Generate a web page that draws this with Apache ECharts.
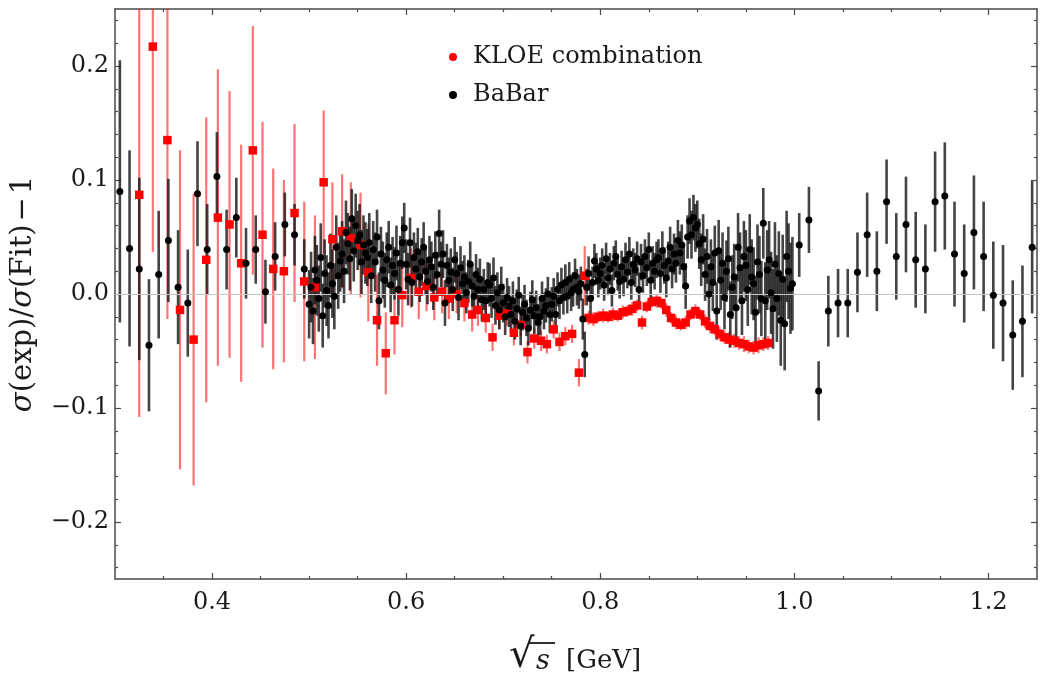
<!DOCTYPE html>
<html>
<head>
<meta charset="utf-8">
<script src="https://cdn.jsdelivr.net/npm/echarts@6/dist/echarts.min.js"></script>
<style>
  html, body { margin: 0; padding: 0; background: #fff; }
  #chart { width: 1040px; height: 686px; }
</style>
</head>
<body>
<div id="chart"></div>
<script>
// Relative deviation of measured e+e- -> pi+pi- cross sections from the fit.

// Tick positions
const xMajorTicks = [0.4, 0.6, 0.8, 1.0, 1.2];
const xMinorTicks = [0.35, 0.45, 0.5, 0.55, 0.65, 0.7, 0.75, 0.85, 0.9, 0.95, 1.05, 1.1, 1.15];
const yMajorTicks = [-0.2, -0.1, 0.0, 0.1, 0.2];
const yMinorTicks = [-0.24, -0.22, -0.18, -0.16, -0.14, -0.12, -0.08, -0.06, -0.04, -0.02,
                     0.02, 0.04, 0.06, 0.08, 0.12, 0.14, 0.16, 0.18, 0.22, 0.24];

// KLOE combination: sqrt(s) [GeV], deviation, uncertainty
const kloeX = [0.325,0.339,0.354,0.367,0.381,0.394,0.406,0.418,0.430,0.442,
  0.452,0.463,0.474,0.485,0.495,0.506,0.515,0.524,0.534,0.543,
  0.553,0.561,0.570,0.579,0.588,0.596,0.605,0.613,0.621,0.629,
  0.637,0.644,0.652,0.660,0.668,0.674,0.682,0.689,0.696,0.704,
  0.711,0.718,0.725,0.732,0.739,0.745,0.752,0.758,0.764,0.771,
  0.778,0.784,
  0.788,0.793,0.798,0.803,0.808,0.813,0.818,0.823,0.828,0.833,
  0.838,0.843,0.848,0.853,0.858,0.863,0.868,0.873,0.878,0.883,
  0.888,0.893,0.898,0.903,0.908,0.913,0.918,0.923,0.928,0.933,
  0.938,0.943,0.948,0.953,0.958,0.963,0.968,0.973];
const kloeY = [0.087,0.217,0.135,-0.014,-0.040,0.030,0.067,0.061,0.027,0.126,
  0.052,0.022,0.020,0.071,0.011,0.006,0.098,0.048,0.055,0.049,
  0.043,0.019,-0.023,-0.052,-0.023,-0.001,0.014,0.002,0.007,-0.003,
  0.002,-0.004,0.000,-0.008,-0.018,-0.014,-0.021,-0.038,-0.019,-0.017,
  -0.034,-0.027,-0.051,-0.039,-0.041,-0.044,-0.031,-0.042,-0.037,-0.035,
  -0.069,0.016,
  -0.021,-0.022,-0.020,-0.019,-0.020,-0.018,-0.019,-0.016,-0.015,-0.013,
  -0.010,-0.025,-0.011,-0.007,-0.006,-0.008,-0.014,-0.021,-0.025,-0.027,
  -0.025,-0.018,-0.015,-0.018,-0.024,-0.028,-0.031,-0.035,-0.038,-0.040,
  -0.041,-0.043,-0.044,-0.046,-0.047,-0.045,-0.044,-0.043];
const kloeErr = [0.195,0.180,0.157,0.140,0.128,0.125,0.130,0.117,0.104,0.109,
  0.099,0.088,0.080,0.078,0.070,0.063,0.063,0.050,0.050,0.049,
  0.046,0.043,0.040,0.036,0.030,0.028,0.026,0.024,0.022,0.020,
  0.019,0.018,0.017,0.016,0.015,0.014,0.013,0.012,0.012,0.011,
  0.011,0.010,0.010,0.009,0.009,0.008,0.008,0.008,0.008,0.008,
  0.012,0.026,
  0.006,0.006,0.005,0.006,0.005,0.006,0.005,0.006,0.005,0.006,
  0.005,0.006,0.005,0.005,0.006,0.005,0.006,0.005,0.006,0.005,
  0.006,0.005,0.006,0.005,0.006,0.006,0.005,0.006,0.006,0.007,
  0.006,0.006,0.007,0.006,0.006,0.007,0.006,0.006];

// BaBar: sqrt(s) [GeV], deviation, uncertainty
const babarX = [0.305,0.315,0.325,0.335,0.345,0.355,0.365,0.375,0.385,0.395,
  0.405,0.415,0.425,0.435,0.445,0.455,0.465,0.475,0.485,0.495,
  0.500,0.502,0.504,0.506,0.508,0.510,0.512,0.514,0.516,0.518,
  0.520,0.522,0.524,0.526,0.528,0.530,0.532,0.534,0.536,0.538,
  0.540,0.542,0.544,0.546,0.548,0.550,0.552,0.554,0.556,0.558,
  0.560,0.562,0.564,0.566,0.568,0.570,0.572,0.574,0.576,0.578,
  0.580,0.582,0.584,0.586,0.588,0.590,0.592,0.594,0.596,0.598,
  0.600,0.602,0.604,0.606,0.608,0.610,0.612,0.614,0.616,0.618,
  0.620,0.622,0.624,0.626,0.628,0.630,0.632,0.634,0.636,0.638,
  0.640,0.642,0.644,0.646,0.648,0.650,0.652,0.654,0.656,0.658,
  0.660,0.662,0.664,0.666,0.668,0.670,0.672,0.674,0.676,0.678,
  0.680,0.682,0.684,0.686,0.688,0.690,0.692,0.694,0.696,0.698,
  0.700,0.702,0.704,0.706,0.708,0.710,0.712,0.714,0.716,0.718,
  0.720,0.722,0.724,0.726,0.728,0.730,0.732,0.734,0.736,0.738,
  0.740,0.742,0.744,0.746,0.748,0.750,0.752,0.754,0.756,0.758,
  0.760,0.762,0.764,0.766,0.768,0.770,0.772,0.774,0.776,0.778,
  0.780,0.782,0.784,0.786,0.788,0.790,0.792,0.794,0.796,0.798,
  0.800,0.802,0.804,0.806,0.808,0.810,0.812,0.814,0.816,0.818,
  0.820,0.822,0.824,0.826,0.828,0.830,0.832,0.834,0.836,0.838,
  0.840,0.842,0.844,0.846,0.848,0.850,0.852,0.854,0.856,0.858,
  0.860,0.862,0.864,0.866,0.868,0.870,0.872,0.874,0.876,0.878,
  0.880,0.882,0.884,0.886,0.888,0.890,0.892,0.894,0.896,0.898,
  0.900,0.902,0.904,0.906,0.908,0.910,0.912,0.914,0.916,0.918,
  0.920,0.922,0.924,0.926,0.928,0.930,0.932,0.934,0.936,0.938,
  0.940,0.942,0.944,0.946,0.948,0.950,0.952,0.954,0.956,0.958,
  0.960,0.962,0.964,0.966,0.968,0.970,0.972,0.974,0.976,0.978,
  0.980,0.982,0.984,0.986,0.988,0.990,0.992,0.994,0.996,0.998,
  1.005,1.015,1.025,1.035,1.045,1.055,1.065,1.075,1.085,1.095,
  1.105,1.115,1.125,1.135,1.145,1.155,1.165,1.175,1.185,1.195,
  1.205,1.215,1.225,1.235,1.245];
const babarY = [0.090,0.040,0.022,-0.045,0.017,0.047,0.006,-0.008,0.088,0.039,
  0.103,0.039,0.067,0.027,0.039,0.002,0.033,0.061,0.052,0.022,
  -0.009,0.006,-0.015,0.021,0.012,-0.004,0.032,-0.019,0.018,0.003,
  -0.010,0.025,0.009,-0.002,0.041,0.016,0.029,0.035,0.020,0.054,
  0.044,0.031,0.066,0.038,0.060,0.047,0.052,0.028,0.043,0.036,
  0.032,0.045,0.016,0.039,0.028,0.050,-0.006,0.035,0.021,0.012,
  0.030,0.041,0.008,0.025,0.018,0.036,0.004,0.027,0.045,0.058,
  0.026,0.013,0.045,0.010,0.032,0.022,0.037,0.015,0.028,0.041,
  0.020,0.011,0.030,0.024,0.006,0.034,0.017,0.053,0.026,0.035,
  -0.008,0.025,0.012,0.019,0.004,0.030,0.018,-0.003,0.023,0.009,
  0.015,0.001,0.011,0.026,0.007,-0.002,0.017,0.004,0.013,-0.005,
  0.004,-0.006,0.010,0.008,-0.004,0.014,-0.010,0.001,-0.014,0.006,
  -0.008,-0.020,-0.003,-0.011,-0.018,-0.006,-0.024,-0.013,-0.001,-0.028,
  -0.016,-0.009,-0.021,-0.030,-0.014,-0.005,-0.019,-0.012,-0.025,-0.020,
  -0.004,-0.015,-0.010,0.000,-0.018,-0.009,-0.002,-0.018,0.004,-0.006,
  0.008,-0.003,0.010,-0.002,0.013,0.001,0.004,0.016,0.006,0.002,
  0.009,-0.022,-0.053,0.006,0.018,-0.004,0.010,0.029,0.022,0.012,
  0.018,0.025,0.008,0.031,0.014,0.022,0.003,0.027,0.033,0.017,
  0.011,0.024,0.013,0.030,0.019,0.035,0.010,0.026,0.021,0.031,
  0.004,0.028,0.016,0.033,0.023,0.039,0.012,0.027,0.020,0.030,
  0.032,0.018,0.038,0.025,0.014,0.029,0.041,0.022,0.035,0.027,
  0.047,0.036,0.043,0.024,0.007,0.050,0.064,0.052,0.067,0.058,
  0.061,0.044,0.030,0.048,0.017,0.033,0.000,0.024,0.010,0.036,
  -0.015,0.038,0.012,0.027,-0.003,0.020,0.031,-0.018,0.006,0.015,
  -0.012,0.041,0.023,-0.006,0.033,0.025,0.004,0.039,0.015,0.009,
  -0.016,0.028,0.017,-0.004,0.062,-0.006,0.021,0.030,0.001,-0.013,
  0.026,-0.004,0.018,-0.023,0.013,-0.026,0.033,0.020,0.005,0.009,
  0.043,0.065,-0.085,-0.015,-0.008,-0.008,0.019,0.052,0.020,0.081,
  0.033,0.061,0.030,0.022,0.081,0.086,0.035,0.018,0.054,0.033,
  -0.001,-0.008,-0.036,-0.024,0.041];
const babarErr = [0.115,0.086,0.080,0.058,0.056,0.054,0.050,0.047,0.046,0.040,
  0.039,0.035,0.035,0.031,0.030,0.028,0.030,0.028,0.027,0.026,
  0.030,0.031,0.029,0.030,0.031,0.029,0.030,0.028,0.030,0.031,
  0.029,0.028,0.030,0.029,0.028,0.029,0.027,0.029,0.028,0.028,
  0.027,0.028,0.026,0.027,0.028,0.026,0.027,0.028,0.026,0.027,
  0.025,0.026,0.024,0.025,0.026,0.024,0.025,0.024,0.025,0.024,
  0.024,0.023,0.024,0.025,0.023,0.024,0.023,0.024,0.023,0.022,
  0.022,0.023,0.022,0.021,0.022,0.023,0.021,0.022,0.021,0.022,
  0.021,0.020,0.021,0.022,0.020,0.021,0.020,0.021,0.020,0.021,
  0.020,0.019,0.020,0.021,0.019,0.020,0.019,0.020,0.019,0.020,
  0.019,0.018,0.019,0.020,0.018,0.019,0.018,0.019,0.018,0.019,
  0.018,0.017,0.018,0.019,0.017,0.018,0.017,0.018,0.017,0.018,
  0.017,0.016,0.017,0.018,0.016,0.017,0.016,0.017,0.016,0.017,
  0.016,0.017,0.016,0.015,0.016,0.017,0.016,0.015,0.016,0.016,
  0.015,0.016,0.015,0.015,0.016,0.015,0.016,0.015,0.015,0.016,
  0.015,0.015,0.016,0.015,0.015,0.016,0.015,0.015,0.016,0.015,
  0.015,0.018,0.020,0.016,0.015,0.015,0.014,0.015,0.014,0.015,
  0.014,0.015,0.014,0.014,0.015,0.014,0.014,0.015,0.014,0.014,
  0.015,0.014,0.015,0.015,0.014,0.015,0.015,0.014,0.015,0.015,
  0.015,0.016,0.015,0.015,0.016,0.015,0.016,0.015,0.016,0.016,
  0.016,0.017,0.017,0.016,0.017,0.017,0.018,0.017,0.018,0.017,
  0.018,0.019,0.018,0.019,0.020,0.019,0.020,0.021,0.020,0.021,
  0.021,0.022,0.023,0.022,0.023,0.024,0.023,0.024,0.025,0.024,
  0.025,0.027,0.026,0.027,0.028,0.027,0.028,0.029,0.028,0.029,
  0.029,0.030,0.031,0.030,0.031,0.031,0.032,0.031,0.033,0.032,
  0.032,0.033,0.034,0.033,0.031,0.034,0.035,0.034,0.036,0.035,
  0.037,0.038,0.037,0.040,0.039,0.041,0.040,0.042,0.040,0.041,
  0.028,0.029,0.026,0.031,0.030,0.030,0.035,0.037,0.035,0.037,
  0.038,0.042,0.042,0.039,0.044,0.047,0.046,0.043,0.050,0.048,
  0.047,0.051,0.048,0.049,0.058];

const FONT = '"DejaVu Serif", "Liberation Serif", serif';
const X_MIN = 0.3, X_MAX = 1.25, Y_MIN = -0.25, Y_MAX = 0.25;

function points(xs, ys) { return xs.map((x, i) => [x, ys[i]]); }
function bars(xs, ys, es) { return xs.map((x, i) => [x, ys[i] - es[i], ys[i] + es[i]]); }

function barRenderer(color, width) {
  return function (params, api) {
    const x = api.value(0);
    const lo = Math.max(api.value(1), Y_MIN);
    const hi = Math.min(api.value(2), Y_MAX);
    if (hi <= lo) return null;
    const a = api.coord([x, lo]);
    const b = api.coord([x, hi]);
    return {
      type: 'line',
      shape: { x1: a[0], y1: a[1], x2: b[0], y2: b[1] },
      style: { stroke: color, lineWidth: width }
    };
  };
}

function fmt(v) {
  const s = Math.abs(v).toFixed(1);
  return v < -1e-9 ? '\u2212' + s : s;
}

const tickStyle = { color: '#4a4a4a', width: 1.2 };
function lineDef(show) {
  return show
    ? { show: true, onZero: false, lineStyle: { color: '#4a4a4a', width: 1.5 } }
    : { show: false, onZero: false };
}

function xAxisDef(position, ticks, len, withLine, withLabels) {
  return {
    type: 'value', min: X_MIN, max: X_MAX, position: position,
    splitLine: { show: false },
    axisLine: lineDef(withLine),
    axisTick: { show: true, inside: true, length: len, customValues: ticks, lineStyle: tickStyle },
    axisLabel: withLabels
      ? { show: true, customValues: ticks, formatter: fmt, fontFamily: FONT, fontSize: 24, color: '#1a1a1a', margin: 12 }
      : { show: false }
  };
}
function yAxisDef(position, ticks, len, withLine, withLabels) {
  return {
    type: 'value', min: Y_MIN, max: Y_MAX, position: position,
    splitLine: { show: false },
    axisLine: lineDef(withLine),
    axisTick: { show: true, inside: true, length: len, customValues: ticks, lineStyle: tickStyle },
    axisLabel: withLabels
      ? { show: true, customValues: ticks, formatter: fmt, fontFamily: FONT, fontSize: 24, color: '#1a1a1a', margin: 6 }
      : { show: false }
  };
}

const yMain = yAxisDef('left', yMajorTicks, 6, true, true);
yMain.name = '{i|\u03c3}(exp)/{i|\u03c3}(Fit)\u200a\u2212\u200a1';
yMain.nameLocation = 'middle';
yMain.nameGap = 77;
yMain.nameRotate = 90;
yMain.nameTextStyle = {
  fontFamily: FONT, fontSize: 29, color: '#1a1a1a',
  rich: { i: { fontFamily: FONT, fontSize: 29, fontStyle: 'italic', color: '#1a1a1a' } }
};

const chart = echarts.init(document.getElementById('chart'), null, { renderer: 'canvas' });
chart.setOption({
  animation: false,
  backgroundColor: '#fff',
  grid: { left: 115, right: 3, top: 9, bottom: 107, containLabel: false },
  xAxis: [
    xAxisDef('bottom', xMajorTicks, 6, true, true),
    xAxisDef('bottom', xMinorTicks, 3, false, false),
    xAxisDef('top', xMajorTicks, 6, true, false),
    xAxisDef('top', xMinorTicks, 3, false, false)
  ],
  yAxis: [
    yMain,
    yAxisDef('left', yMinorTicks, 3, false, false),
    yAxisDef('right', yMajorTicks, 6, true, false),
    yAxisDef('right', yMinorTicks, 3, false, false)
  ],
  legend: {
    data: ['KLOE combination', 'BaBar'],
    orient: 'vertical', left: 444, top: 40,
    icon: 'circle', itemWidth: 30, itemHeight: 8, itemGap: 14,
    selectedMode: false,
    textStyle: { fontFamily: FONT, fontSize: 24, color: '#1a1a1a' }
  },
  graphic: [
    { type: 'text', left: 509, top: 637, style: { text: '\u221a', font: '40px ' + FONT, fill: '#1a1a1a' } },
    { type: 'line', shape: { x1: 528, y1: 643, x2: 555, y2: 643 }, style: { stroke: '#1a1a1a', lineWidth: 1.8 } },
    { type: 'text', left: 536, top: 648, style: { text: 's', font: 'italic 27px ' + FONT, fill: '#1a1a1a' } },
    { type: 'text', left: 566, top: 648, style: { text: '[GeV]', font: '26px ' + FONT, fill: '#1a1a1a' } }
  ],
  series: [
    {
      name: 'zero', type: 'custom', z: 1, silent: true,
      data: [], renderItem: function () { return null; },
      markLine: {
        silent: true, symbol: 'none', label: { show: false },
        lineStyle: { color: '#c4c4c4', width: 1, type: 'solid' },
        data: [{ yAxis: 0 }]
      }
    },
    {
      name: 'KLOE errors', type: 'custom', z: 2, silent: true,
      renderItem: barRenderer('rgba(255,0,0,0.55)', 2.2),
      encode: { x: 0, y: [1, 2] },
      data: bars(kloeX, kloeY, kloeErr)
    },
    {
      name: 'BaBar errors', type: 'custom', z: 3, silent: true,
      renderItem: barRenderer('rgba(15,15,15,0.78)', 2.6),
      encode: { x: 0, y: [1, 2] },
      data: bars(babarX, babarY, babarErr)
    },
    {
      name: 'KLOE combination', type: 'scatter', z: 4,
      symbol: 'rect', symbolSize: 8.5,
      itemStyle: { color: '#ff0000', opacity: 1 },
      data: points(kloeX, kloeY)
    },
    {
      name: 'BaBar', type: 'scatter', z: 5,
      symbol: 'circle', symbolSize: 7,
      itemStyle: { color: '#000000', opacity: 1 },
      data: points(babarX, babarY)
    }
  ]
});
</script>
</body>
</html>
